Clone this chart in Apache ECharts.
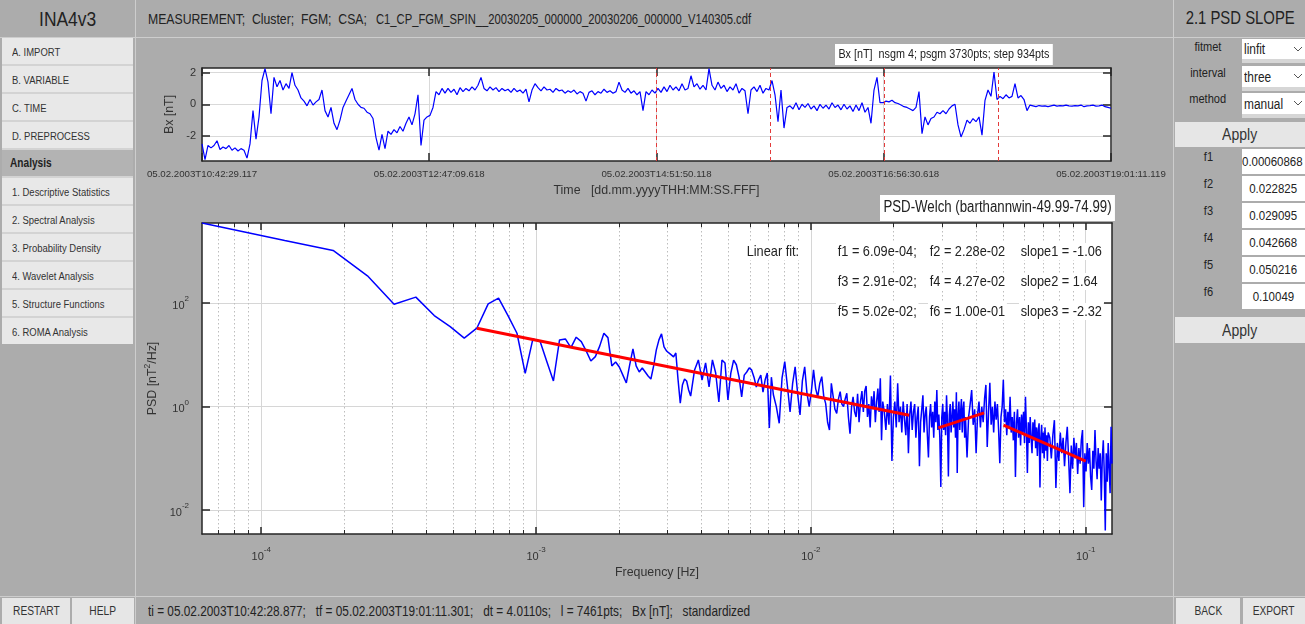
<!DOCTYPE html>
<html>
<head>
<meta charset="utf-8">
<script src="https://cdn.jsdelivr.net/npm/echarts@6/dist/echarts.min.js"></script>
<style>
html,body{margin:0;padding:0;}
body{width:1305px;height:624px;background:#acacac;position:relative;overflow:hidden;
 font-family:'Liberation Sans',Arial,sans-serif;color:#2e2e2e;}
.abs{position:absolute;box-sizing:border-box;}
.sq{display:inline-block;transform:scaleX(.85);transform-origin:left center;white-space:pre;}
.sqc{display:inline-block;transform:scaleX(.85);transform-origin:center center;white-space:pre;}
.sqm{display:inline-block;transform:scaleX(.81);transform-origin:left center;white-space:pre;}
.hd{display:flex;align-items:center;justify-content:center;color:#222;}
.htxt{position:absolute;top:0;height:37px;display:flex;align-items:center;font-size:14.4px;color:#222;white-space:pre;}
.menu{position:absolute;left:0;width:131px;height:26px;background:#e8e8e8;font-size:11.7px;
 display:flex;align-items:center;padding-left:10px;box-sizing:border-box;white-space:nowrap;overflow:hidden;color:#333;}
.btn{background:#e6e6e6;display:flex;align-items:center;justify-content:center;font-size:12px;color:#333;}
.lbl{display:flex;align-items:center;justify-content:center;font-size:13px;color:#222;}
.dd{background:#fff;font-size:14px;display:flex;align-items:center;padding-left:2px;color:#222;}
.val{background:#fff;font-size:13.5px;display:flex;align-items:center;justify-content:center;color:#222;white-space:nowrap;overflow:hidden;}
#chart{position:absolute;left:0;top:0;width:1305px;height:624px;z-index:5;}
</style>
</head>
<body>
<!-- header row -->
<div class="abs hd" style="left:0;top:0;width:135px;height:37px;font-size:20.5px;"><span class="sqc">INA4v3</span></div>
<div class="htxt" style="left:148px;"><span class="sq">MEASUREMENT;  Cluster;  FGM;  CSA;</span></div>
<div class="htxt" style="left:376px;"><span class="sq" style="transform:scaleX(.78);">C1_CP_FGM_SPIN__20030205_000000_20030206_000000_V140305.cdf</span></div>
<div class="abs hd" style="left:1175px;top:0;width:130px;height:37px;font-size:17.5px;"><span class="sqc">2.1 PSD SLOPE</span></div>
<div class="abs" style="left:0;top:37px;width:1305px;height:1px;background:#cdcdcd;"></div>
<div class="abs" style="left:135px;top:0;width:1px;height:624px;background:#cdcdcd;"></div>
<div class="abs" style="left:1173px;top:0;width:1px;height:624px;background:#cdcdcd;"></div>

<!-- left menu -->
<div class="abs" style="left:2px;top:38px;width:131px;height:306px;background:#d3d3d3;">
 <div class="menu" style="top:0;"><span class="sqm">A. IMPORT</span></div>
 <div class="menu" style="top:28px;"><span class="sqm">B. VARIABLE</span></div>
 <div class="menu" style="top:56px;"><span class="sqm">C. TIME</span></div>
 <div class="menu" style="top:84px;"><span class="sqm">D. PREPROCESS</span></div>
 <div class="menu" style="top:112px;background:#b3b3b3;font-weight:bold;font-size:12.5px;color:#222;padding-left:8px;"><span class="sqm">Analysis</span></div>
 <div class="menu" style="top:140px;"><span class="sqm">1. Descriptive Statistics</span></div>
 <div class="menu" style="top:168px;"><span class="sqm">2. Spectral Analysis</span></div>
 <div class="menu" style="top:196px;"><span class="sqm">3. Probability Density</span></div>
 <div class="menu" style="top:224px;"><span class="sqm">4. Wavelet Analysis</span></div>
 <div class="menu" style="top:252px;"><span class="sqm">5. Structure Functions</span></div>
 <div class="menu" style="top:280px;"><span class="sqm">6. ROMA Analysis</span></div>
</div>

<!-- right panel -->
<div class="abs lbl" style="left:1175px;top:36px;width:66px;height:20px;"><span class="sqc">fitmet</span></div>
<div class="abs dd" style="left:1242px;top:39px;width:63px;height:20px;"><span class="sq">linfit</span><svg width="8" height="5" style="position:absolute;right:3px;top:8px"><polyline points="0,0 4,4 8,0" fill="none" stroke="#555" stroke-width="1"/></svg></div>
<div class="abs" style="left:1242px;top:59px;width:63px;height:4px;background:#d6d6d6;"></div>
<div class="abs lbl" style="left:1175px;top:62px;width:66px;height:20px;"><span class="sqc">interval</span></div>
<div class="abs dd" style="left:1242px;top:66px;width:63px;height:21px;"><span class="sq">three</span><svg width="8" height="5" style="position:absolute;right:3px;top:8px"><polyline points="0,0 4,4 8,0" fill="none" stroke="#555" stroke-width="1"/></svg></div>
<div class="abs" style="left:1242px;top:87px;width:63px;height:4px;background:#d6d6d6;"></div>
<div class="abs lbl" style="left:1175px;top:88px;width:66px;height:20px;"><span class="sqc">method</span></div>
<div class="abs dd" style="left:1242px;top:93px;width:63px;height:21px;"><span class="sq">manual</span><svg width="8" height="5" style="position:absolute;right:3px;top:8px"><polyline points="0,0 4,4 8,0" fill="none" stroke="#555" stroke-width="1"/></svg></div>
<div class="abs" style="left:1242px;top:114px;width:63px;height:4px;background:#d6d6d6;"></div>
<div class="abs btn" style="left:1175px;top:122px;width:130px;height:25px;font-size:16.5px;"><span class="sqc">Apply</span></div>

<div class="abs lbl" style="left:1175px;top:148px;width:66px;height:17px;"><span class="sqc">f1</span></div>
<div class="abs val" style="left:1242px;top:149px;width:63px;height:25px;justify-content:flex-start;"><span class="sq">0.00060868</span></div>
<div class="abs lbl" style="left:1175px;top:175px;width:66px;height:17px;"><span class="sqc">f2</span></div>
<div class="abs val" style="left:1242px;top:176px;width:63px;height:25px;"><span class="sqc">0.022825</span></div>
<div class="abs lbl" style="left:1175px;top:202px;width:66px;height:17px;"><span class="sqc">f3</span></div>
<div class="abs val" style="left:1242px;top:203px;width:63px;height:25px;"><span class="sqc">0.029095</span></div>
<div class="abs lbl" style="left:1175px;top:229px;width:66px;height:17px;"><span class="sqc">f4</span></div>
<div class="abs val" style="left:1242px;top:230px;width:63px;height:25px;"><span class="sqc">0.042668</span></div>
<div class="abs lbl" style="left:1175px;top:256px;width:66px;height:17px;"><span class="sqc">f5</span></div>
<div class="abs val" style="left:1242px;top:257px;width:63px;height:25px;"><span class="sqc">0.050216</span></div>
<div class="abs lbl" style="left:1175px;top:283px;width:66px;height:17px;"><span class="sqc">f6</span></div>
<div class="abs val" style="left:1242px;top:284px;width:63px;height:25px;"><span class="sqc">0.10049</span></div>
<div class="abs btn" style="left:1175px;top:317px;width:130px;height:26px;font-size:16.5px;"><span class="sqc">Apply</span></div>

<!-- bottom bar -->
<div class="abs" style="left:0;top:596px;width:1305px;height:1px;background:#cdcdcd;"></div>
<div class="abs btn" style="left:2px;top:598px;width:68px;height:26px;"><span class="sqc">RESTART</span></div>
<div class="abs btn" style="left:72px;top:598px;width:62px;height:26px;"><span class="sqc">HELP</span></div>
<div class="abs" style="left:137px;top:598px;width:1036px;height:26px;font-size:13.9px;display:flex;align-items:center;padding-left:11px;color:#222;"><span class="sq">ti = 05.02.2003T10:42:28.877;   tf = 05.02.2003T19:01:11.301;   dt = 4.0110s;   l = 7461pts;   Bx [nT];   standardized</span></div>
<div class="abs btn" style="left:1176px;top:598px;width:64px;height:26px;"><span class="sqc">BACK</span></div>
<div class="abs btn" style="left:1243px;top:598px;width:62px;height:26px;"><span class="sqc">EXPORT</span></div>

<div id="chart"></div>

<script>
// ---------------- DATA ----------------
// time series (Bx, standardized), samples equally spaced over the interval
const TOTAL_SEC = 29922.002;   // 10:42:29.117 -> 19:01:11.119
const timeTickSecs = [0, 7480.5, 14961, 22441.5, 29922.002];
const timeTickLabels = ['05.02.2003T10:42:29.117','05.02.2003T12:47:09.618','05.02.2003T14:51:50.118','05.02.2003T16:56:30.618','05.02.2003T19:01:11.119'];
const segmentEndSecs = [14957, 18703, 22450, 26196];
const bxTicks = [-2, 0, 2];
const bxMin = -3.58, bxMax = 2.29;

const bxSeg1 = [-2.5,-3.5,-2.6,-2.75,-2.6,-2.3,-2.85,-2.7,-2.8,-2.6,-2.9,-2.75,-2.95,-2.8,-2.9,-3.4,-2.5,-0.4,-2.2,-0.8,
 1.5,2.25,1.4,-0.6,1.7,1.1,1.5,0.9,1.3,1.0,2.0,1.2,0.9,0.4,0.2,-0.1,0.3,-0.05,0.15,0.3,
 0.9,-0.4,-0.8,-0.2,-1.2,-1.6,-1.0,-0.2,0.2,0.6,1.0,0.3,0.0,-0.2,-0.25,-0.5,-0.6,-0.9,-2.1,-2.9,
 -1.9,-2.8,-1.7,-1.9,-1.6,-1.8,-1.4,-1.7,-1.2,-0.8,-1.3,-0.6,0.6,-2.6,-1.0,-0.8,-0.7,-0.2,0.8,0.6];
const bxSeg2 = [1.0,0.7,1.0,0.75,0.95,0.6,1.05,0.8,1.0,0.85,1.1,0.9,1.2,1.7,1.0,0.85,1.1,0.9,1.05,0.8,
 1.0,0.85,0.95,0.75,1.0,0.8,0.9,0.7,0.95,0.15,0.9,1.3,1.05,0.85,1.1,0.9,0.95,0.75,1.0,0.85,
 0.9,0.7,0.85,0.75,0.9,0.65,0.8,0.7,0.2,0.75,0.85,0.6,0.8,0.7,0.95,0.75,0.85,0.7,0.8,1.4,0.9,0.75,1.0,0.7,0.85,0.6,0.8];
const bxSeg3 = [-0.4,
 0.8,0.6,0.9,0.7,1.0,0.75,1.1,0.8,1.2,0.9,1.1,0.85,1.3,0.9,1.0,1.8,1.1,1.3,0.95,1.2,0.9,2.25,
 1.2,0.9,1.4,1.0,1.2,0.8,1.1,0.9,1.3,0.7,1.0,0.85,-0.6,0.9,1.1,0.8,1.2,0.7,1.0,0.9,1.5,
 0.6,-1.1,0.9,-1.5,-0.2,
 -0.1,-0.3,0.1,-0.35,0.0,-0.2,0.05,-0.3,-0.1,-0.4,0.0,-0.25,-0.05,-0.3,0.1,-0.2,-0.05,-0.35,0.0,-0.3,-0.1,-0.45,-0.05,-0.4,0.1,-0.5,-0.2];
const bxSeg4 = [-1.2,0.9,1.7,0.1,
 0.1,0.2,0.15,0.25,0.1,0.05,-0.05,-0.15,-0.2,-0.3,-0.4,-0.2,0.8,
 -1.85,-0.8,-1.3,-0.9,
 -0.8,-0.5,-0.6,-0.4,-0.6,-0.3,-0.1,0.0,
 -1.3,-2.06,-1.6,-1.0,-1.2,-0.9,-1.1,-0.8,-1.95,
 0.25,0.9,0.5,2.04,0.3,
 0.5,0.35,0.6,0.4,0.5,1.3,0.4,0.55,0.3,-0.4,
 -0.05,-0.1,-0.15,-0.08,-0.12,-0.1,-0.15,-0.1,-0.05,-0.12,-0.08,-0.1,-0.05,-0.1,-0.12,-0.08,-0.1,-0.05,-0.15,-0.1,-0.08,-0.05,-0.12,-0.1,-0.05,-0.15,-0.2,-0.25];

// PSD (Welch), values are log10(PSD [nT^2/Hz]) read at FFT bin k (f = k * DF)
const DF = 6.087e-5;            // frequency resolution [Hz]
const psdFreqMin = 6.087e-5, psdFreqMax = 0.12467;
const psdLogMin = -2.459, psdLogMax = 3.548;
const psdXTickExp = [-4, -3, -2, -1];
const psdYTickExp = [-2, 0, 2];
const psdMinorFreqs = [7e-5,8e-5,9e-5,2e-4,3e-4,4e-4,5e-4,6e-4,7e-4,8e-4,9e-4,
 2e-3,3e-3,4e-3,5e-3,6e-3,7e-3,8e-3,9e-3,2e-2,3e-2,4e-2,5e-2,6e-2,7e-2,8e-2,9e-2];

const psdLogA = [3.548,3.21,3.018,2.528,1.98,2.116,1.76,1.547,1.323,1.516,
 1.986,2.097,1.754,1.419,0.645,1.309,1.257,0.864,0.496,1.29,
 1.309,1.14,1.342,1.257,1.077,0.883,0.967,1.17,1.42,1.334,
 0.787,0.864,0.767,0.61,0.458,0.806,1.115,0.787,0.67,0.748,
 0.67,0.593,0.535,0.787,1.097,1.29,1.406,1.154,1.077,1.038,
 1.0,0.961,1.038,0.516,0.07,0.419,0.535,0.497,0.322,0.206];           // k = 1..60
const psdLogB = [0.709,0.903,0.516,0.845,0.38,0.903,0.651,0.09,0.903,0.845,
 0.13,0.65,0.90,0.81,0.57,0.19,0.61,0.67,0.75,0.71,
 0.57,0.38,0.52,0.61,0.28,0.52,0.65,-0.41,0.57,0.23];                // k = 62..120 step 2
const psdLogC = [0.0,-0.32,0.55,0.87,0.39,-0.10,0.45,0.77,0.26,-0.16,
 0.5,0.77,0.26,0.0,0.3,0.71,0.35,0.19,0.45,0.58,
 0.2,0.06,-0.3,-0.45,0.45,0.2,-0.05,-0.13,0.15,0.29,
 0.05,0.0,0.15,0.26,-0.2,-0.52,0.0,0.19,-0.1,-0.2,
 0.25,-0.3,0.1,0.3,-0.1,0.3,0.4,-0.2,0.05,-0.4,
 0.2,-0.05,0.3,-0.3,0.1,0.35,-0.1,0.55,-0.65,0.1];                  // k = 123..300 step 3
const psdLogD = [-0.1,-0.45,0.05,-0.35,0.6,-1.05,-0.2,0.1,-0.4,0.45,
 -0.3,0.0,-0.5,0.1,-0.25,-0.55,0.05,-0.9,-0.15,0.1,
 -0.45,-0.1,0.05,-0.6,-0.2,0.0,-1.15,-0.3,-0.05,0.22,
 -0.5,-0.15,0.0,-0.55,-0.98,-0.2,0.05,-0.4,-0.1,-0.6,
 0.1,-0.3,0.32,-0.45,-0.15,-0.6,-1.55,-0.2,0.05,-0.45,
 -0.1,-0.55,0.22,-0.3,-1.35,-0.15,0.05,-0.5,-0.2,0.1,
 -0.4,-0.05,-0.6,0.28,-1.28,-0.15,0.1,-0.45,-0.1,0.15,
 -0.5,-0.05,0.1,-0.6,-0.2];                                          // k = 304..600 step 4
const psdLogE = [-0.98,-0.2,0.05,0.32,-0.35,-0.05,-0.9,-0.15,0.1,-0.4,
 0.0,-0.3,0.15,0.42,-0.78,-0.1,0.46,-0.35,0.0,-0.5,
 0.1,-0.25,0.05,-0.45,-1.09,-0.2,0.0,0.52,-0.3,-0.05,
 -0.55,-0.1,-0.4,0.19,-0.5,-0.2,-0.65,-0.1,-1.36,-0.3,
 -0.05,-0.6,-0.2,-0.75,-0.15,-0.5,-0.1,-0.7,0.19,-0.45,
 -1.28,-0.3,-0.7,-0.2,-0.6,-0.9,-0.3,-0.65,-0.25,-0.8,
 -0.4,-0.95,-0.45,-0.32,-1.56,-0.6,-0.35,-0.9,-0.5,-1.0,
 -0.4,-0.85,-0.55,-1.05,-0.5];                                        // k = 608..1200 step 8
const psdLogF = [-0.6,-1.0,-0.55,-0.26,-1.57,-0.7,-1.05,-0.5,-0.9,-0.6,
 -1.15,-0.7,-0.39,-1.0,-1.67,-0.75,-1.2,-0.6,-1.0,-0.7,
 -1.3,-0.8,-1.1,-0.65,-0.45,-1.94,-0.9,-1.25,-0.7,-1.1,
 -0.8,-1.35,-1.61,-0.85,-1.2,-0.45,-1.05,-1.4,-0.8,-1.2,
 -0.9,-1.81,-1.0,-0.65,-1.3,-2.39,-0.9,-1.45,-0.7,-1.2,
 -1.67,-0.39,-1.1];                                                   // k = 1216..2048 step 16
const psdParts = [
  {kStart: 1, kStep: 1, vals: psdLogA},
  {kStart: 62, kStep: 2, vals: psdLogB},
  {kStart: 123, kStep: 3, vals: psdLogC},
  {kStart: 304, kStep: 4, vals: psdLogD},
  {kStart: 608, kStep: 8, vals: psdLogE},
  {kStart: 1216, kStep: 16, vals: psdLogF}
];

// linear-fit segments (from the annotation) and fitted PSD end values (log10)
const fitFreqs = [6.09e-4, 2.28e-2, 2.91e-2, 4.27e-2, 5.02e-2, 1.00e-1];
const fitLogPsd = [1.516, -0.165, -0.41, -0.12, -0.355, -1.05];

// annotation texts
const fitTextRows = [
  ['f1 = 6.09e-04;', 'f2 = 2.28e-02', 'slope1 = -1.06'],
  ['f3 = 2.91e-02;', 'f4 = 4.27e-02', 'slope2 = 1.64'],
  ['f5 = 5.02e-02;', 'f6 = 1.00e-01', 'slope3 = -2.32']
];

// ---------------- CHART ----------------
const FONT = "'Liberation Sans',Arial,sans-serif";
const AX = '#262626';
const TXT = '#333333';
const SQ = 0.85;

const bxAll = bxSeg1.concat(bxSeg2, bxSeg3, bxSeg4);
const bxData = bxAll.map((v, i) => [i * TOTAL_SEC / (bxAll.length - 1), v]);

const psdData = [];
psdParts.forEach(p => p.vals.forEach((v, j) => {
  psdData.push([Math.log10((p.kStart + j * p.kStep) * DF), v]);
}));
const fitSeries = [0, 1, 2].map(s => ({
  type: 'line', xAxisIndex: 2, yAxisIndex: 2, silent: true, symbol: 'none', z: 4,
  lineStyle: {color: '#ff0000', width: 3},
  data: [[Math.log10(fitFreqs[2*s]), fitLogPsd[2*s]], [Math.log10(fitFreqs[2*s+1]), fitLogPsd[2*s+1]]]
}));

const lineAx = {color: AX, width: 1.5};
function boxAxis(gridIndex, position, min, max, ticks, len) {
  return {
    gridIndex, type: 'value', position, min, max,
    axisLine: {show: true, onZero: false, lineStyle: lineAx},
    axisTick: {show: true, inside: true, length: len, customValues: ticks, lineStyle: lineAx},
    axisLabel: {show: false}, splitLine: {show: false}
  };
}
function minorAxis(gridIndex, position, min, max, ticks, grid) {
  return {
    gridIndex, type: 'value', position, min, max,
    axisLine: {show: false, onZero: false},
    axisTick: {show: true, inside: true, length: 4, customValues: ticks, lineStyle: {color: AX, width: 1}},
    axisLabel: {show: false},
    splitLine: {show: grid, lineStyle: {color: '#bdbdbd', width: 1, type: [1.5, 2.5]}}
  };
}
const psdXMin = Math.log10(psdFreqMin), psdXMax = Math.log10(psdFreqMax);
const minorX = psdMinorFreqs.map(f => Math.log10(f));
const supRich = {
  b: {fontSize: 11, fontFamily: FONT, color: TXT, lineHeight: 16, verticalAlign: 'bottom'},
  s: {fontSize: 8, fontFamily: FONT, color: TXT, lineHeight: 16, verticalAlign: 'top'}
};

function txt(x, y, text, size, pad) {
  return {type: 'text', x, y, z: 100, scaleX: SQ, style: {text, font: size + 'px ' + FONT, fill: '#222',
    backgroundColor: '#fff', padding: pad || [1, 2]}};
}
const graphics = [
  txt(835, 44, 'Bx [nT]  nsgm 4; psgm 3730pts; step 934pts', 12.7, [4, 4, 4, 4]),
  txt(880, 195, 'PSD-Welch (barthannwin-49.99-74.99)', 15.6, [5, 4, 5, 4]),
  txt(745, 243, 'Linear fit:', 15)
];
fitTextRows.forEach((row, r) => {
  [836, 928, 1019].forEach((x, c) => graphics.push(txt(x, 243 + 30 * r, row[c], 15)));
});

const option = {
  animation: false,
  backgroundColor: 'transparent',
  grid: [
    {left: 202, top: 68, width: 909, height: 93, show: true, backgroundColor: '#ffffff', borderWidth: 0},
    {left: 202, top: 223, width: 910, height: 311, show: true, backgroundColor: '#ffffff', borderWidth: 0}
  ],
  xAxis: [
    {
      gridIndex: 0, type: 'value', position: 'bottom', min: 0, max: TOTAL_SEC,
      axisLine: {show: true, onZero: false, lineStyle: lineAx},
      axisTick: {show: true, inside: true, length: 8, customValues: timeTickSecs, lineStyle: lineAx},
      axisLabel: {
        show: true, customValues: timeTickSecs, margin: 8, fontSize: 9.7, fontFamily: FONT, color: TXT,
        formatter: v => { const i = timeTickSecs.findIndex(t => Math.abs(t - v) < 1); return i >= 0 ? timeTickLabels[i] : ''; }
      },
      splitLine: {show: true, lineStyle: {color: '#d9d9d9', width: 1}},
      name: 'Time   [dd.mm.yyyyTHH:MM:SS.FFF]', nameLocation: 'middle', nameGap: 24,
      nameTextStyle: {fontSize: 12.4, fontFamily: FONT, color: TXT}
    },
    boxAxis(0, 'top', 0, TOTAL_SEC, timeTickSecs, 8),
    {
      gridIndex: 1, type: 'value', position: 'bottom', min: psdXMin, max: psdXMax,
      axisLine: {show: true, onZero: false, lineStyle: lineAx},
      axisTick: {show: true, inside: true, length: 7, customValues: psdXTickExp, lineStyle: lineAx},
      axisLabel: {show: true, customValues: psdXTickExp, margin: 12, formatter: v => '{b|10}{s|' + v + '}', rich: supRich},
      splitLine: {show: true, lineStyle: {color: '#d6d6d6', width: 1}},
      name: 'Frequency [Hz]', nameLocation: 'middle', nameGap: 33,
      nameTextStyle: {fontSize: 12.4, fontFamily: FONT, color: TXT}
    },
    boxAxis(1, 'top', psdXMin, psdXMax, psdXTickExp, 7),
    minorAxis(1, 'bottom', psdXMin, psdXMax, minorX, true),
    minorAxis(1, 'top', psdXMin, psdXMax, minorX, false)
  ],
  yAxis: [
    {
      gridIndex: 0, type: 'value', position: 'left', min: bxMin, max: bxMax,
      axisLine: {show: true, onZero: false, lineStyle: lineAx},
      axisTick: {show: true, inside: true, length: 8, customValues: bxTicks, lineStyle: lineAx},
      axisLabel: {show: true, customValues: bxTicks, margin: 6, fontSize: 11, fontFamily: FONT, color: TXT},
      splitLine: {show: true, lineStyle: {color: '#d9d9d9', width: 1}},
      name: 'Bx [nT]', nameLocation: 'middle', nameGap: 20,
      nameTextStyle: {fontSize: 12.4, fontFamily: FONT, color: TXT}
    },
    boxAxis(0, 'right', bxMin, bxMax, bxTicks, 8),
    {
      gridIndex: 1, type: 'value', position: 'left', min: psdLogMin, max: psdLogMax,
      axisLine: {show: true, onZero: false, lineStyle: lineAx},
      axisTick: {show: true, inside: true, length: 8, customValues: psdYTickExp, lineStyle: lineAx},
      axisLabel: {show: true, customValues: psdYTickExp, margin: 13, formatter: v => '{b|10}{s|' + v + '}', rich: supRich},
      splitLine: {show: true, lineStyle: {color: '#d6d6d6', width: 1}},
      name: '{a|PSD [nT}{s|2}{a|/Hz]}', nameLocation: 'middle', nameGap: 32,
      nameTextStyle: {rich: {
        a: {fontSize: 12.4, fontFamily: FONT, color: TXT, lineHeight: 16, verticalAlign: 'bottom'},
        s: {fontSize: 8.5, fontFamily: FONT, color: TXT, lineHeight: 16, verticalAlign: 'top'}
      }}
    },
    boxAxis(1, 'right', psdLogMin, psdLogMax, psdYTickExp, 8)
  ],
  series: [
    {
      type: 'line', xAxisIndex: 0, yAxisIndex: 0, data: bxData, symbol: 'none', silent: true, z: 3,
      lineStyle: {color: '#0000ff', width: 1.2},
      markLine: {
        silent: true, symbol: ['none', 'none'], label: {show: false}, z: 4,
        lineStyle: {color: '#e33b3b', width: 1, type: [4, 3]},
        data: segmentEndSecs.map(s => ({xAxis: s}))
      }
    },
    {
      type: 'line', xAxisIndex: 2, yAxisIndex: 2, data: psdData, symbol: 'none', silent: true, z: 3,
      lineStyle: {color: '#0000ff', width: 1.5}
    }
  ].concat(fitSeries),
  graphic: graphics
};

const chart = echarts.init(document.getElementById('chart'), null, {renderer: 'canvas', width: 1305, height: 624});
chart.setOption(option);
</script>
</body>
</html>
